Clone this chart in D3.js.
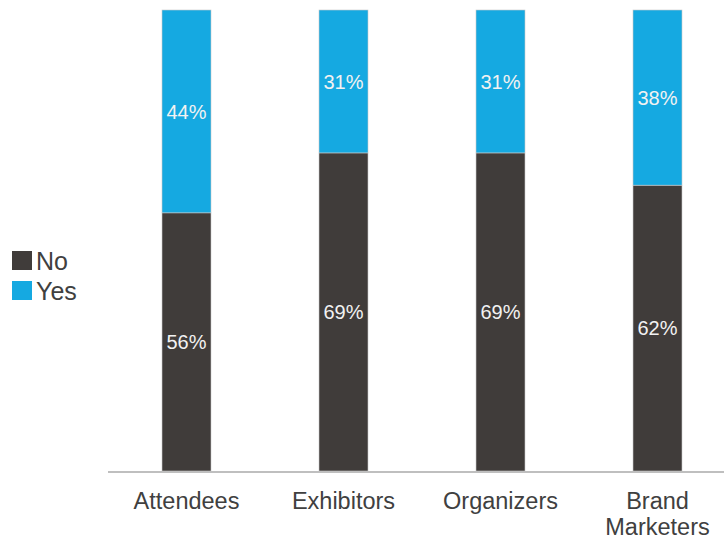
<!DOCTYPE html>
<html>
<head>
<meta charset="utf-8">
<script src="https://cdn.jsdelivr.net/npm/d3@7"></script>
<style>
  html, body { margin: 0; padding: 0; background: #ffffff; }
  svg { display: block; }
  text { font-family: "Liberation Sans", Arial, Helvetica, sans-serif; }
</style>
</head>
<body>
<svg id="chart" width="724" height="536"></svg>
<script>
// Survey answers per respondent group (percent)
const categories = ["Attendees", "Exhibitors", "Organizers", "Brand Marketers"];
const categoryLines = [["Attendees"], ["Exhibitors"], ["Organizers"], ["Brand", "Marketers"]];
const noValues = [56, 69, 69, 62];
const yesValues = [44, 31, 31, 38];
const seriesNames = ["No", "Yes"];
const seriesColors = ["#403c3a", "#15a9e1"];

const svg = d3.select("#chart");
const W = 724, H = 536;
const plot = { left: 108, top: 10, bottom: 471 };

const rows = categories.map((c, i) => ({ category: c, No: noValues[i], Yes: yesValues[i] }));
const stacked = d3.stack().keys(seriesNames)(rows);

const x = d3.scaleBand()
  .domain(categories)
  .range([plot.left, plot.left + 628])
  .paddingInner(0.688)
  .paddingOuter(0.344);

const y = d3.scaleLinear().domain([0, 100]).range([plot.bottom, plot.top]);

const color = d3.scaleOrdinal().domain(seriesNames).range(seriesColors);

// Stacked segments
const layers = svg.append("g").selectAll("g")
  .data(stacked)
  .join("g")
  .attr("fill", d => color(d.key));

layers.selectAll("rect")
  .data(d => d.map(s => ({ s, key: d.key })))
  .join("rect")
  .attr("x", d => x(d.s.data.category))
  .attr("y", d => y(d.s[1]))
  .attr("width", x.bandwidth())
  .attr("height", d => y(d.s[0]) - y(d.s[1]))
  .attr("stroke", "#c8c8c8")
  .attr("stroke-width", 0.6);

// Percent labels centred in each segment
layers.selectAll("text")
  .data(d => d.map(s => ({ s, key: d.key })))
  .join("text")
  .attr("x", d => x(d.s.data.category) + x.bandwidth() / 2)
  .attr("y", d => (y(d.s[0]) + y(d.s[1])) / 2)
  .attr("dy", "0.36em")
  .attr("text-anchor", "middle")
  .attr("fill", "#f2f2f2")
  .attr("font-size", 20)
  .text(d => (d.s[1] - d.s[0]) + "%");

// Baseline
svg.append("line")
  .attr("x1", plot.left).attr("x2", W)
  .attr("y1", plot.bottom + 1).attr("y2", plot.bottom + 1)
  .attr("stroke", "#bfbfbf")
  .attr("stroke-width", 2);

// Category labels
const catLabels = svg.append("g").selectAll("text")
  .data(categories)
  .join("text")
  .attr("x", d => x(d) + x.bandwidth() / 2)
  .attr("y", 509)
  .attr("text-anchor", "middle")
  .attr("fill", "#404040")
  .attr("font-size", 23.5);

catLabels.selectAll("tspan")
  .data((d, i) => categoryLines[i])
  .join("tspan")
  .attr("x", function () { return d3.select(this.parentNode).attr("x"); })
  .attr("dy", (d, i) => i === 0 ? 0 : 25.5)
  .text(d => d);

// Legend
const legend = svg.append("g").selectAll("g")
  .data(seriesNames)
  .join("g")
  .attr("transform", (d, i) => `translate(12, ${251 + i * 30})`);

legend.append("rect")
  .attr("width", 20).attr("height", 19)
  .attr("fill", d => color(d));

legend.append("text")
  .attr("x", 24)
  .attr("y", 19)
  .attr("fill", "#404040")
  .attr("font-size", 25)
  .text(d => d);
</script>
</body>
</html>
